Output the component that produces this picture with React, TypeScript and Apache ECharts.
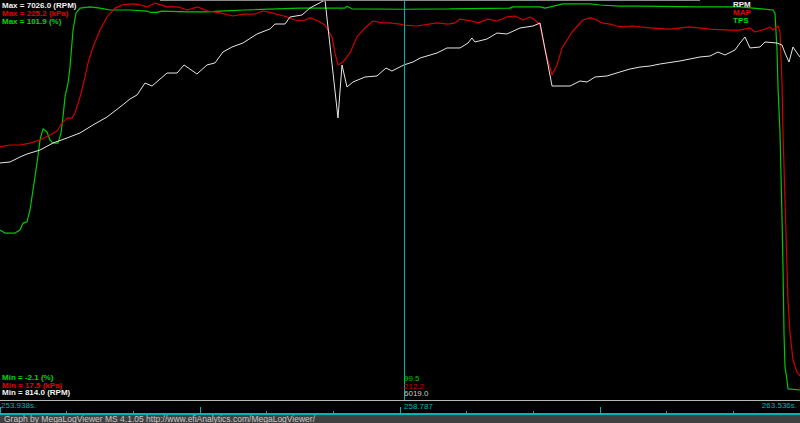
import React, { useEffect, useRef } from "react";
import * as echarts from "echarts";

const timeStart = 253.938;
const timeEnd = 263.536;
const cursorTime = 258.787;

const rpmMin = 814.0;
const rpmMax = 7026.0;
const mapMin = 17.5;
const mapMax = 225.2;
const tpsMin = -2.1;
const tpsMax = 101.9;

const cursorTps = "99.5";
const cursorMap = "212.2";
const cursorRpm = "6019.0";

const rpmTimes = [
  253.938, 254.058, 254.178, 254.262, 254.418, 254.574, 254.742, 254.898, 255.054, 255.222,
  255.378, 255.498, 255.582, 255.678, 255.762, 255.942, 256.062, 256.146, 256.301, 256.421,
  256.517, 256.613, 256.721, 256.853, 257.021, 257.177, 257.237, 257.357, 257.417, 257.561,
  257.657, 257.837, 257.993, 258.041, 258.101, 258.173, 258.317, 258.461, 258.569, 258.640,
  258.787, 258.893, 258.977, 259.181, 259.301, 259.457, 259.553, 259.600, 259.636, 259.780,
  259.900, 260.020, 260.176, 260.333, 260.417, 260.561, 260.777, 260.897, 260.981, 261.077,
  261.221, 261.376, 261.496, 261.616, 261.736, 261.856, 262.096, 262.336, 262.456, 262.552,
  262.636, 262.756, 262.816, 262.876, 262.936, 263.056, 263.116, 263.260, 263.320, 263.356,
  263.404, 263.452, 263.500, 263.536,
];
const rpmValues = [
  4495, 4510, 4588, 4634, 4696, 4805, 4883, 4961, 5085, 5209,
  5364, 5489, 5551, 5737, 5690, 5892, 5892, 6017, 5877, 6017,
  6048, 6218, 6296, 6358, 6498, 6576, 6653, 6653, 6762, 6793,
  6902, 7026, 5193, 6017, 5675, 5753, 5830, 5846, 5970, 5923,
  6019, 6063, 6125, 6203, 6281, 6281, 6358, 6436, 6374, 6420,
  6513, 6498, 6591, 6622, 6669, 5690, 5690, 5768, 5753, 5830,
  5846, 5908, 5954, 5985, 6001, 6032, 6079, 6141, 6156, 6218,
  6172, 6250, 6358, 6451, 6281, 6296, 6374, 6358, 6327, 6203,
  6063, 6296, 6203, 6141,
];

const mapTimes = [
  253.938, 254.058, 254.178, 254.298, 254.418, 254.538, 254.622, 254.682, 254.742, 254.802,
  254.838, 254.898, 254.958, 254.994, 255.054, 255.138, 255.222, 255.318, 255.402, 255.474,
  255.582, 255.702, 255.798, 255.942, 256.074, 256.181, 256.313, 256.433, 256.577, 256.733,
  256.853, 256.997, 257.093, 257.201, 257.297, 257.381, 257.477, 257.573, 257.657, 257.753,
  257.837, 257.921, 257.957, 257.993, 258.053, 258.137, 258.221, 258.317, 258.413, 258.521,
  258.616, 258.736, 258.787, 258.941, 259.181, 259.313, 259.397, 259.457, 259.600, 259.672,
  259.792, 259.900, 260.020, 260.116, 260.212, 260.297, 260.357, 260.417, 260.477, 260.561,
  260.621, 260.681, 260.801, 260.933, 261.017, 261.077, 261.161, 261.257, 261.340, 261.412,
  261.532, 261.616, 261.736, 261.976, 262.216, 262.456, 262.696, 262.816, 262.936, 262.996,
  263.116, 263.176, 263.212, 263.272, 263.296, 263.320, 263.332, 263.356, 263.380, 263.392,
  263.416, 263.452, 263.500, 263.536,
];
const mapValues = [
  148.9, 149.9, 149.9, 150.9, 152.5, 155.1, 157.2, 161.3, 163.9, 163.9,
  166.5, 174.8, 185.2, 192.5, 200.8, 209.6, 216.4, 221.0, 222.6, 223.1,
  223.1, 221.6, 223.6, 221.6, 221.6, 220.0, 221.6, 219.5, 218.5, 216.9,
  217.9, 217.9, 219.5, 218.5, 217.4, 216.4, 214.8, 214.3, 215.9, 214.3,
  212.2, 206.0, 197.7, 191.5, 193.0, 197.7, 206.0, 210.7, 214.3, 213.3,
  213.3, 212.7, 212.2, 211.7, 213.3, 212.7, 213.3, 215.3, 214.3, 213.3,
  215.3, 214.3, 216.4, 216.9, 214.8, 216.4, 214.8, 212.2, 199.2, 186.3,
  191.5, 200.3, 208.6, 214.8, 215.9, 215.3, 213.3, 212.7, 211.7, 211.2,
  211.7, 211.2, 210.7, 210.1, 211.2, 210.1, 209.6, 209.6, 210.7, 208.6,
  210.1, 211.2, 209.6, 211.7, 208.1, 182.1, 156.1, 121.4, 86.6, 69.4,
  52.3, 38.3, 32.0, 30.0,
];

const tpsTimes = [
  253.938, 253.998, 254.118, 254.178, 254.214, 254.262, 254.298, 254.334, 254.382, 254.418,
  254.454, 254.502, 254.538, 254.574, 254.634, 254.670, 254.694, 254.718, 254.754, 254.778,
  254.814, 254.850, 254.898, 255.018, 255.138, 255.258, 255.498, 255.702, 255.738, 255.822,
  255.882, 256.181, 256.421, 256.577, 256.877, 257.537, 258.077, 258.101, 258.161, 258.787,
  259.337, 260.056, 260.092, 260.176, 260.417, 260.477, 260.693, 261.017, 261.137, 261.376,
  261.616, 262.336, 262.816, 263.212, 263.236, 263.260, 263.272, 263.296, 263.320, 263.332,
  263.344, 263.356, 263.380, 263.392, 263.536,
];
const tpsValues = [
  42.1, 41.3, 41.3, 42.1, 43.9, 44.2, 47.3, 52.5, 59.5, 65.5,
  68.4, 67.6, 65.5, 64.7, 64.7, 67.3, 71.5, 76.7, 80.3, 84.5,
  94.1, 98.5, 99.8, 100.1, 99.8, 99.3, 99.3, 99.0, 98.7, 98.7,
  99.0, 98.8, 98.8, 99.0, 99.3, 99.8, 99.8, 100.3, 99.6, 99.5,
  99.6, 99.8, 100.1, 100.1, 100.1, 99.8, 100.9, 100.9, 100.6, 100.3,
  100.3, 100.1, 100.1, 99.3, 98.5, 88.9, 79.3, 67.3, 45.5, 32.5,
  15.3, 6.5, 3.1, 0.8, 0.5,
];

const zip = (ts: number[], vs: number[]) => ts.map((t, i) => [t, vs[i]]);

const FONT = '"Liberation Sans", Arial, sans-serif';
const RPM_COLOR = "#e6e6e6";
const MAP_COLOR = "#d40000";
const TPS_COLOR = "#00c800";
const CYAN = "#00b4b4";

function txt(text: string, x: number, y: number, fill: string, opts: any = {}) {
  return {
    type: "text",
    x,
    y,
    z: 100,
    silent: true,
    style: {
      text,
      fill,
      fontFamily: FONT,
      fontSize: opts.size ?? 8,
      fontWeight: opts.bold ? "bold" : "normal",
      align: opts.align ?? "left",
      textAlign: opts.align ?? "left",
      verticalAlign: "middle",
      textVerticalAlign: "middle",
    },
  };
}

export default function App() {
  const ref = useRef<HTMLDivElement>(null);
  useEffect(() => {
    if (!ref.current) return;
    const chart = echarts.init(ref.current, undefined, { renderer: "svg" });
    const option: any = {
      animation: false,
      backgroundColor: "#000000",
      grid: [
        { left: 0, right: 0, top: 0, height: 400 },
        { left: 0, right: 0, top: 400, height: 14 },
      ],
      xAxis: [
        { gridIndex: 0, type: "value", min: timeStart, max: timeEnd, show: false },
        {
          gridIndex: 1,
          type: "value",
          min: 0,
          max: 4,
          interval: 1,
          axisLine: { show: true, lineStyle: { color: CYAN, width: 2 } },
          axisTick: { show: true, inside: true, length: 7, lineStyle: { color: CYAN, width: 1 } },
          minorTick: { show: true, splitNumber: 3, length: 3, lineStyle: { color: CYAN, width: 1 } },
          axisLabel: { show: false },
          splitLine: { show: false },
          minorSplitLine: { show: false },
        },
      ],
      yAxis: [
        { gridIndex: 0, type: "value", min: rpmMin, max: rpmMax, show: false },
        { gridIndex: 0, type: "value", min: mapMin, max: mapMax, show: false },
        { gridIndex: 0, type: "value", min: tpsMin, max: tpsMax, show: false },
        { gridIndex: 1, type: "value", min: 0, max: 1, show: false },
      ],
      series: [
        {
          name: "TPS",
          type: "line",
          xAxisIndex: 0,
          yAxisIndex: 2,
          data: zip(tpsTimes, tpsValues),
          showSymbol: false,
          lineStyle: { color: TPS_COLOR, width: 1.2 },
          silent: true,
        },
        {
          name: "MAP",
          type: "line",
          xAxisIndex: 0,
          yAxisIndex: 1,
          data: zip(mapTimes, mapValues),
          showSymbol: false,
          lineStyle: { color: MAP_COLOR, width: 1.2 },
          silent: true,
        },
        {
          name: "RPM",
          type: "line",
          xAxisIndex: 0,
          yAxisIndex: 0,
          data: zip(rpmTimes, rpmValues),
          showSymbol: false,
          lineStyle: { color: RPM_COLOR, width: 1 },
          silent: true,
          markLine: {
            silent: true,
            symbol: ["none", "none"],
            label: { show: false },
            lineStyle: { color: CYAN, width: 1, type: "solid" },
            data: [{ xAxis: cursorTime }],
          },
        },
      ],
      graphic: [
        { type: "line", z: 90, silent: true, shape: { x1: 160, y1: 0.5, x2: 700, y2: 0.5 }, style: { stroke: "#8a8a8a", lineWidth: 1 } },
        { type: "line", z: 90, silent: true, shape: { x1: 0, y1: 400.5, x2: 800, y2: 400.5 }, style: { stroke: "#b8b8b8", lineWidth: 1 } },
        { type: "rect", z: 90, silent: true, shape: { x: 0, y: 415, width: 800, height: 8 }, style: { fill: "#404040" } },
        txt("Max = " + rpmMax.toFixed(1) + " (RPM)", 2, 5.4, "#f2f2f2", { bold: true }),
        txt("Max = " + mapMax.toFixed(1) + " (kPa)", 2, 13.4, "#e00000", { bold: true }),
        txt("Max = " + tpsMax.toFixed(1) + " (%)", 2, 21.2, "#00d800", { bold: true }),
        txt("RPM", 733, 4.8, "#f2f2f2", { bold: true, size: 8 }),
        txt("MAP", 733, 12.6, "#e00000", { bold: true, size: 8 }),
        txt("TPS", 733, 20.4, "#00d800", { bold: true, size: 8 }),
        txt("Min = " + tpsMin.toFixed(1) + " (%)", 2, 377.6, "#00d800", { bold: true }),
        txt("Min = " + mapMin.toFixed(1) + " (kPa)", 2, 385.2, "#e00000", { bold: true }),
        txt("Min = " + rpmMin.toFixed(1) + " (RPM)", 2, 392.8, "#f2f2f2", { bold: true }),
        txt(cursorTps, 404, 378.4, "#00c800"),
        txt(cursorMap, 404, 386.1, "#d00000"),
        txt(cursorRpm, 404, 393.8, "#c8c8c8"),
        txt(timeStart.toFixed(3) + "s.", 1, 405.8, CYAN),
        txt(cursorTime.toFixed(3), 404, 406.5, CYAN),
        txt(timeEnd.toFixed(3) + "s.", 797, 405.8, CYAN, { align: "right" }),
        txt("Graph by MegaLogViewer MS 4.1.05 http://www.efiAnalytics.com/MegaLogViewer/", 4, 418.8, "#c8c8c8", { size: 8.5 }),
      ],
    };
    chart.setOption(option);
    return () => chart.dispose();
  }, []);
  return (
    <div
      ref={ref}
      style={{ position: "fixed", left: 0, top: 0, width: 800, height: 423 }}
    />
  );
}
